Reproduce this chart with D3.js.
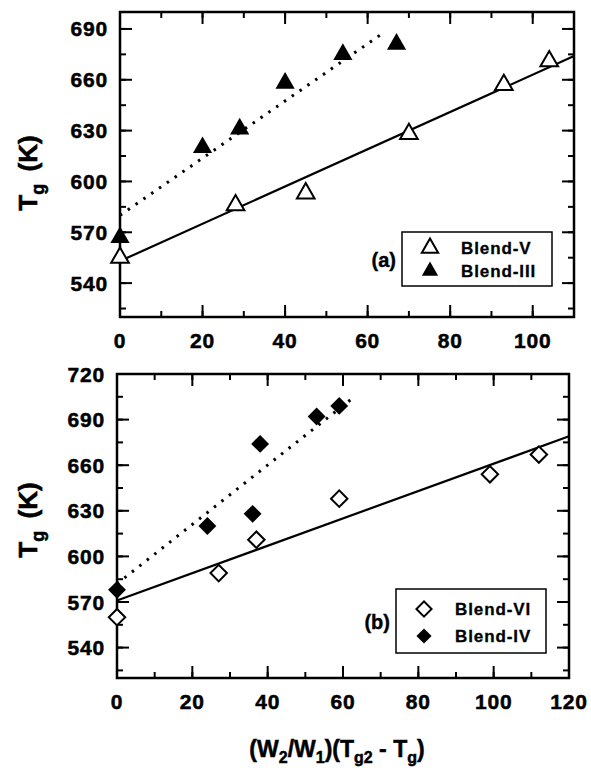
<!DOCTYPE html>
<html>
<head>
<meta charset="utf-8">
<script src="https://cdn.jsdelivr.net/npm/d3@7"></script>
<style>
  body { margin: 0; background: #fff; }
  svg text { font-family: "Liberation Sans", Arial, sans-serif; font-weight: bold; fill: #000; }
</style>
</head>
<body>
<svg id="chart" width="591" height="774"></svg>
<script>
// panel (a)
var blendVx = [0, 28, 45, 70, 93, 104];
var blendVy = [555, 586, 593, 628, 657, 671];
var blendIIIx = [0, 20, 29, 40, 54, 67];
var blendIIIy = [567, 620, 631, 658, 675, 681];
var fitAsolid = [[0, 553], [110, 674]];
var fitAdotted = [[0, 580], [64, 688]];
var yTicksA = [540, 570, 600, 630, 660, 690];
var xTicksA = [0, 20, 40, 60, 80, 100];

// panel (b)
var blendVIx = [0, 27, 37, 59, 99, 112];
var blendVIy = [560, 589, 611, 638, 654, 667];
var blendIVx = [0, 24, 36, 38, 53, 59];
var blendIVy = [578, 620, 628, 674, 692, 699];
var fitBsolid = [[0, 571], [120, 679]];
var fitBdotted = [[0, 582], [63, 705]];
var yTicksB = [540, 570, 600, 630, 660, 690, 720];
var xTicksB = [0, 20, 40, 60, 80, 100, 120];

var svg = d3.select('#chart');

function drawPanel(p) {
  var x = d3.scaleLinear().domain(p.xDomain).range([p.left, p.right]);
  var y = d3.scaleLinear().domain(p.yDomain).range([p.bottom, p.top]);
  var g = svg.append('g');

  // minor ticks first, then majors
  var xMinor = d3.range(p.xDomain[0], p.xDomain[1] + 0.1, 10);
  var yMinor = d3.range(p.yDomain[0] + 5, p.yDomain[1], 15);

  function tickLines(vals, isX, len) {
    vals.forEach(function(v) {
      if (isX) {
        var px = x(v);
        g.append('line').attr('x1', px).attr('x2', px).attr('y1', p.bottom).attr('y2', p.bottom - len);
        g.append('line').attr('x1', px).attr('x2', px).attr('y1', p.top).attr('y2', p.top + len);
      } else {
        var py = y(v);
        g.append('line').attr('x1', p.left).attr('x2', p.left + len).attr('y1', py).attr('y2', py);
        g.append('line').attr('x1', p.right).attr('x2', p.right - len).attr('y1', py).attr('y2', py);
      }
    });
  }
  tickLines(xMinor, true, 6);
  tickLines(p.xTicks, true, 12);
  tickLines(yMinor, false, 6);
  tickLines(p.yTicks, false, 12);
  g.selectAll('line').attr('stroke', '#000').attr('stroke-width', 2);

  g.append('rect')
    .attr('x', p.left).attr('y', p.top)
    .attr('width', p.right - p.left).attr('height', p.bottom - p.top)
    .attr('fill', 'none').attr('stroke', '#000').attr('stroke-width', 2.5);

  g.selectAll('.xt').data(p.xTicks).enter().append('text')
    .attr('x', d => x(d)).attr('y', p.bottom + 31)
    .attr('text-anchor', 'middle').attr('font-size', 21)
    .attr('letter-spacing', 0.8)
    .attr('stroke', '#000').attr('stroke-width', 0.5)
    .text(d => d);
  g.selectAll('.yt').data(p.yTicks).enter().append('text')
    .attr('x', p.left - 12).attr('y', d => y(d) + 7.5)
    .attr('text-anchor', 'end').attr('font-size', 21)
    .attr('letter-spacing', 0.8)
    .attr('stroke', '#000').attr('stroke-width', 0.5)
    .text(d => d);

  // y title
  var yt = g.append('text')
    .attr('transform', 'translate(' + 37 + ',' + p.yTitleY + ') rotate(-90)')
    .attr('text-anchor', 'middle').attr('font-size', 26)
    .attr('stroke', '#000').attr('stroke-width', 0.6);
  yt.append('tspan').text('T');
  yt.append('tspan').attr('font-size', 18).attr('dy', 7).text('g');
  yt.append('tspan').attr('dy', -7).text('\u2009 (K)');

  // fit lines
  var line = d3.line().x(d => x(d[0])).y(d => y(d[1]));
  g.append('path').datum(p.solid).attr('d', line)
    .attr('fill', 'none').attr('stroke', '#000').attr('stroke-width', 2.2);
  g.append('path').datum(p.dotted).attr('d', line)
    .attr('fill', 'none').attr('stroke', '#000').attr('stroke-width', 3)
    .attr('stroke-dasharray', '2.5,7');

  // markers
  function sym(s) {
    return p.shape === 'triangle'
      ? d3.symbol().type(d3.symbolTriangle).size(s)()
      : d3.symbol().type(d3.symbolSquare).size(s)();
  }
  var rot = p.shape === 'triangle' ? '' : ' rotate(45)';
  var size = p.shape === 'triangle' ? 135 : 135;

  p.open.x.forEach(function(v, i) {
    g.append('path').attr('d', sym(size))
      .attr('transform', 'translate(' + x(v) + ',' + y(p.open.y[i]) + ')' + rot)
      .attr('fill', '#fff').attr('stroke', '#000').attr('stroke-width', 2);
  });
  p.filled.x.forEach(function(v, i) {
    g.append('path').attr('d', sym(size + 25))
      .attr('transform', 'translate(' + x(v) + ',' + y(p.filled.y[i]) + ')' + rot)
      .attr('fill', '#000');
  });

  // legend
  var L = p.legend;
  g.append('rect').attr('x', L.x).attr('y', L.y).attr('width', L.w).attr('height', L.h)
    .attr('fill', '#fff').attr('stroke', '#000').attr('stroke-width', 1.5);
  [p.open, p.filled].forEach(function(s, i) {
    var cy = L.y + L.rowY + i * L.gap;
    g.append('path').attr('d', sym(size - 20))
      .attr('transform', 'translate(' + (L.x + 28) + ',' + cy + ')' + rot)
      .attr('fill', i ? '#000' : '#fff').attr('stroke', '#000').attr('stroke-width', i ? 0 : 2);
    g.append('text').attr('x', L.x + 59).attr('y', cy + 6)
      .attr('font-size', 17).attr('letter-spacing', 0.9)
      .attr('stroke', '#000').attr('stroke-width', 0.3).text(s.name);
  });
  g.append('text').attr('x', L.x - 6).attr('y', L.y + L.h / 2 + 8)
    .attr('text-anchor', 'end').attr('font-size', 20)
    .attr('stroke', '#000').attr('stroke-width', 0.4).text(p.tag);
}

drawPanel({
  left: 120, right: 574, top: 12, bottom: 317,
  xDomain: [0, 110], yDomain: [520, 700],
  xTicks: xTicksA, yTicks: yTicksA, yTitleY: 173,
  shape: 'triangle',
  open: { name: 'Blend-V', x: blendVx, y: blendVy },
  filled: { name: 'Blend-III', x: blendIIIx, y: blendIIIy },
  solid: fitAsolid, dotted: fitAdotted,
  legend: { x: 402, y: 232, w: 150, h: 54, rowY: 16, gap: 23 }, tag: '(a)'
});

drawPanel({
  left: 117, right: 569, top: 374, bottom: 678,
  xDomain: [0, 120], yDomain: [520, 720],
  xTicks: xTicksB, yTicks: yTicksB, yTitleY: 520,
  shape: 'diamond',
  open: { name: 'Blend-VI', x: blendVIx, y: blendVIy },
  filled: { name: 'Blend-IV', x: blendIVx, y: blendIVy },
  solid: fitBsolid, dotted: fitBdotted,
  legend: { x: 396, y: 589, w: 150, h: 64, rowY: 20, gap: 27 }, tag: '(b)'
});

// x title
var xt = svg.append('text').attr('x', 337).attr('y', 757)
  .attr('text-anchor', 'middle').attr('font-size', 23)
  .attr('stroke', '#000').attr('stroke-width', 0.5);
xt.append('tspan').text('(W');
xt.append('tspan').attr('font-size', 16).attr('dy', 6).text('2');
xt.append('tspan').attr('dy', -6).text('/W');
xt.append('tspan').attr('font-size', 16).attr('dy', 6).text('1');
xt.append('tspan').attr('dy', -6).text(')(T');
xt.append('tspan').attr('font-size', 16).attr('dy', 6).text('g2');
xt.append('tspan').attr('dy', -6).text(' - T');
xt.append('tspan').attr('font-size', 16).attr('dy', 6).text('g');
xt.append('tspan').attr('dy', -6).text(')');
</script>
</body>
</html>
